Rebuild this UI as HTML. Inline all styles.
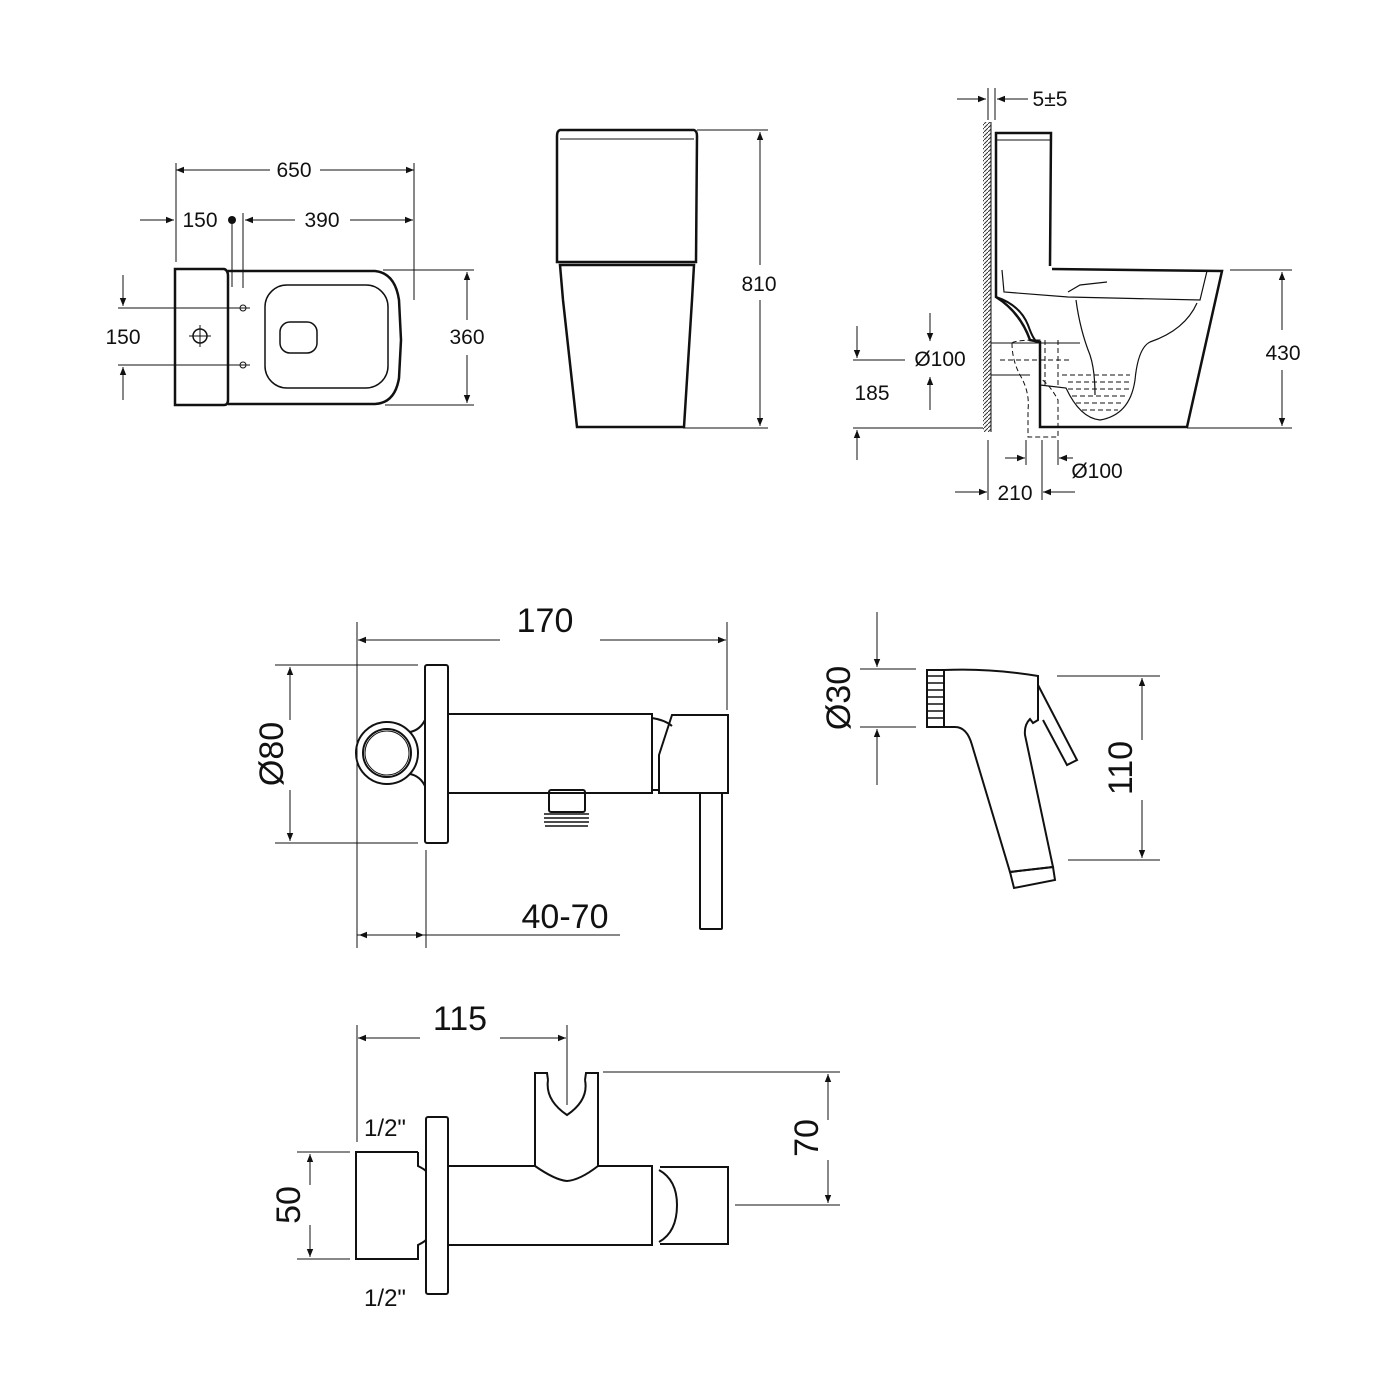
<!DOCTYPE html>
<html><head><style>
html,body{margin:0;padding:0;background:#fff;}
svg{display:block;font-family:"Liberation Sans",sans-serif;}
</style></head><body>
<svg width="1400" height="1400" viewBox="0 0 1400 1400" xmlns="http://www.w3.org/2000/svg">
<defs>
<marker id="a" viewBox="0 0 10 10" refX="10" refY="5" markerWidth="12" markerHeight="8" orient="auto-start-reverse" markerUnits="userSpaceOnUse"><path d="M0,1 L10,5 L0,9 z" fill="#111"/></marker>
<pattern id="h" width="4" height="4" patternUnits="userSpaceOnUse"><path d="M0,4 L4,0" stroke="#333" stroke-width="1"/></pattern>
</defs>
<g stroke="#111" fill="none" stroke-width="1">
<!-- PLAN VIEW -->
<line x1="176" y1="163" x2="176" y2="262"/><line x1="414" y1="163" x2="414" y2="300"/>
<line x1="243" y1="213" x2="243" y2="288"/><line x1="232" y1="220" x2="232" y2="287"/>
<line x1="270" y1="170" x2="176" y2="170" marker-end="url(#a)"/><line x1="320" y1="170" x2="414" y2="170" marker-end="url(#a)"/>
<line x1="140" y1="220" x2="174" y2="220" marker-end="url(#a)"/>
<line x1="295" y1="220" x2="245" y2="220" marker-end="url(#a)"/><line x1="350" y1="220" x2="413" y2="220" marker-end="url(#a)"/>
<line x1="383" y1="270" x2="474" y2="270"/><line x1="385" y1="405" x2="474" y2="405"/>
<line x1="467" y1="320" x2="467" y2="272" marker-end="url(#a)"/><line x1="467" y1="355" x2="467" y2="403" marker-end="url(#a)"/>
<line x1="118" y1="308" x2="250" y2="308"/><line x1="118" y1="365" x2="250" y2="365"/>
<line x1="123" y1="275" x2="123" y2="306" marker-end="url(#a)"/><line x1="123" y1="400" x2="123" y2="367" marker-end="url(#a)"/>
<path d="M175,269 L224,269 Q228,270 228,276 L228,400 Q228,405 224,405 L175,405 Z" stroke-width="2.5"/>
<path d="M228,271 L375,271 Q395,273 399,300 L401,340 L399,378 Q395,403 375,404 L228,404" stroke-width="2.5"/>
<rect x="265" y="285" width="123" height="103" rx="22" stroke-width="1.5"/>
<rect x="280" y="322" width="37" height="31" rx="10" stroke-width="1.5"/>
<circle cx="200" cy="336" r="7" stroke-width="1.5"/><line x1="189" y1="336" x2="211" y2="336"/><line x1="200" y1="325" x2="200" y2="347"/>
<circle cx="243" cy="308" r="3"/><circle cx="243" cy="365" r="3"/>
<!-- FRONT VIEW -->
<path d="M560,130 L694,130 Q697,131 697,136 L696,262 L557,262 L557,136 Q557,131 560,130 Z" stroke-width="2.5"/>
<line x1="560" y1="139" x2="694" y2="139" stroke-width="1"/>
<path d="M560,265 L694,265 L692,300 L684,427 L577,427 L563,300 Z" stroke-width="2.5"/>
<line x1="697" y1="130" x2="768" y2="130"/><line x1="683" y1="428" x2="768" y2="428"/>
<line x1="760" y1="265" x2="760" y2="132" marker-end="url(#a)"/><line x1="760" y1="300" x2="760" y2="426" marker-end="url(#a)"/>
<!-- SIDE VIEW -->
<rect x="983" y="122" width="8" height="310" fill="url(#h)" stroke="none"/>
<line x1="991" y1="122" x2="991" y2="432"/>
<line x1="988" y1="88" x2="988" y2="120"/><line x1="995" y1="88" x2="995" y2="120"/>
<line x1="957" y1="99" x2="986" y2="99" marker-end="url(#a)"/><line x1="1028" y1="99" x2="997" y2="99" marker-end="url(#a)"/>
<path d="M996,266 L996,133 L1051,133 L1050,266" stroke-width="2.5"/>
<line x1="997" y1="140" x2="1050" y2="140"/>
<path d="M996,266 L996,297 Q1020,312 1030,340 L1040,342 L1040,427 L1187,427 L1222,271 L1052,269" stroke-width="2.5"/>
<path d="M996,297 Q1020,305 1028,325 Q1035,345 1040,342" stroke-width="2"/>
<path d="M1002,270 L1004,292 L1068,297 L1200,300 L1207,271" stroke-width="1.2"/>
<path d="M1076,300 Q1080,330 1090,355 Q1095,370 1095,395" stroke-width="1.2"/>
<path d="M1197,303 Q1185,330 1150,342 Q1138,348 1135,380 Q1130,415 1100,420 Q1080,418 1066,388 L1040,385" stroke-width="1.2"/>
<path d="M1068,292 L1080,285 L1107,282" stroke-width="1.2"/>
<g stroke-dasharray="5,3" stroke-width="1">
<path d="M1012,343 Q1015,340 1040,340 L1040,390 M1012,343 Q1012,360 1020,375 Q1030,392 1028,410 L1028,437 L1058,437 L1058,400 Q1050,385 1040,378"/>
<line x1="1045" y1="340" x2="1045" y2="388"/><line x1="1058" y1="340" x2="1058" y2="388"/>
<line x1="1000" y1="360" x2="1070" y2="360"/>
<line x1="1062" y1="375" x2="1130" y2="375"/><line x1="1068" y1="382" x2="1130" y2="382"/><line x1="1068" y1="389" x2="1130" y2="389"/><line x1="1072" y1="396" x2="1128" y2="396"/><line x1="1076" y1="403" x2="1124" y2="403"/><line x1="1082" y1="410" x2="1118" y2="410"/>
</g>
<line x1="991" y1="343" x2="1080" y2="343"/><line x1="991" y1="375" x2="1030" y2="375"/>
<line x1="853" y1="360" x2="905" y2="360"/><line x1="853" y1="428" x2="983" y2="428"/>
<line x1="1187" y1="428" x2="1292" y2="428"/><line x1="1230" y1="270" x2="1292" y2="270"/>
<line x1="857" y1="326" x2="857" y2="358" marker-end="url(#a)"/><line x1="857" y1="460" x2="857" y2="430" marker-end="url(#a)"/>
<line x1="930" y1="313" x2="930" y2="341" marker-end="url(#a)"/><line x1="930" y1="410" x2="930" y2="377" marker-end="url(#a)"/>
<line x1="1282" y1="330" x2="1282" y2="272" marker-end="url(#a)"/><line x1="1282" y1="370" x2="1282" y2="426" marker-end="url(#a)"/>
<line x1="988" y1="440" x2="988" y2="500"/><line x1="1042" y1="440" x2="1042" y2="500"/>
<line x1="1026" y1="440" x2="1026" y2="465"/><line x1="1058" y1="440" x2="1058" y2="465"/>
<line x1="1005" y1="458" x2="1025" y2="458" marker-end="url(#a)"/><line x1="1073" y1="458" x2="1059" y2="458" marker-end="url(#a)"/>
<line x1="955" y1="492" x2="987" y2="492" marker-end="url(#a)"/><line x1="1075" y1="492" x2="1043" y2="492" marker-end="url(#a)"/>
<!-- MIXER 1 -->
<line x1="357" y1="622" x2="357" y2="948"/><line x1="727" y1="622" x2="727" y2="710"/><line x1="426" y1="850" x2="426" y2="948"/>
<line x1="500" y1="640" x2="358" y2="640" marker-end="url(#a)"/><line x1="600" y1="640" x2="726" y2="640" marker-end="url(#a)"/>
<line x1="275" y1="665" x2="418" y2="665"/><line x1="275" y1="843" x2="418" y2="843"/>
<line x1="290" y1="720" x2="290" y2="667" marker-end="url(#a)"/><line x1="290" y1="790" x2="290" y2="841" marker-end="url(#a)"/>
<line x1="357" y1="935" x2="620" y2="935"/>
<line x1="392" y1="935" x2="359" y2="935" marker-end="url(#a)"/><line x1="392" y1="935" x2="424" y2="935" marker-end="url(#a)"/>
<g stroke-width="2">
<rect x="425" y="665" width="23" height="178" rx="2"/>
<rect x="448" y="714" width="204" height="79"/>
<circle cx="387" cy="753" r="31"/><circle cx="387" cy="753" r="24"/><circle cx="387" cy="753" r="22" stroke-width="1"/>
<path d="M410,732 Q420,730 425,720 M410,774 Q420,776 425,786"/>
<path d="M672,715 L728,715 L728,793 L659,793 L659,755 Z"/>
<path d="M652,718 Q665,720 672,726 M652,790 L659,790"/>
<rect x="700" y="793" width="22" height="136" rx="1"/>
<rect x="549" y="790" width="36" height="22" rx="2"/>
</g>
<g stroke-width="1.5"><line x1="544" y1="814" x2="589" y2="814"/><line x1="544" y1="818" x2="589" y2="818"/><line x1="544" y1="822" x2="589" y2="822"/><line x1="545" y1="826" x2="588" y2="826"/></g>
<!-- SPRAYER -->
<line x1="860" y1="669" x2="916" y2="669"/><line x1="860" y1="727" x2="916" y2="727"/>
<line x1="877" y1="612" x2="877" y2="667" marker-end="url(#a)"/><line x1="877" y1="785" x2="877" y2="729" marker-end="url(#a)"/>
<line x1="1057" y1="676" x2="1160" y2="676"/><line x1="1068" y1="860" x2="1160" y2="860"/>
<line x1="1142" y1="740" x2="1142" y2="678" marker-end="url(#a)"/><line x1="1142" y1="800" x2="1142" y2="858" marker-end="url(#a)"/>
<g stroke-width="2">
<rect x="927" y="670" width="17" height="57"/>
<path d="M944,670 Q990,668 1038,676 L1038,720 L1033,723 L1030,719 Q1024,725 1025,735 L1053,867 L1010,872 L972,745 Q967,727 955,727 L944,727"/>
<path d="M1038,685 L1077,760 L1067,765 L1043,720"/>
<path d="M1010,872 L1053,867 L1055,880 L1014,888 Z"/>
</g>
<g stroke-width="1.5"><line x1="927" y1="676" x2="944" y2="676"/><line x1="927" y1="683" x2="944" y2="683"/><line x1="927" y1="690" x2="944" y2="690"/><line x1="927" y1="697" x2="944" y2="697"/><line x1="927" y1="704" x2="944" y2="704"/><line x1="927" y1="711" x2="944" y2="711"/><line x1="927" y1="718" x2="944" y2="718"/></g>
<!-- MIXER 2 -->
<line x1="357" y1="1025" x2="357" y2="1142"/><line x1="567" y1="1025" x2="567" y2="1105"/>
<line x1="420" y1="1038" x2="358" y2="1038" marker-end="url(#a)"/><line x1="500" y1="1038" x2="566" y2="1038" marker-end="url(#a)"/>
<line x1="603" y1="1072" x2="840" y2="1072"/><line x1="735" y1="1205" x2="840" y2="1205"/>
<line x1="828" y1="1120" x2="828" y2="1074" marker-end="url(#a)"/><line x1="828" y1="1160" x2="828" y2="1203" marker-end="url(#a)"/>
<line x1="297" y1="1152" x2="350" y2="1152"/><line x1="297" y1="1259" x2="350" y2="1259"/>
<line x1="310" y1="1185" x2="310" y2="1154" marker-end="url(#a)"/><line x1="310" y1="1225" x2="310" y2="1257" marker-end="url(#a)"/>
<g stroke-width="2">
<path d="M418,1152 L356,1152 L356,1259 L418,1259 L418,1245 Q424,1242 426,1240 M418,1152 L418,1166 Q424,1169 426,1171"/>
<rect x="426" y="1117" width="22" height="177" rx="2"/>
<path d="M448,1166 L535,1166 M598,1166 L652,1166 L652,1245 L448,1245"/>
<path d="M535,1166 L535,1073 L547,1073 L548,1080 M598,1166 L598,1073 L586,1073 L585,1080 M548,1080 Q545,1100 567,1115 Q589,1100 585,1080"/>
<path d="M535,1166 Q555,1180 567,1181 Q580,1180 598,1166"/>
<path d="M660,1167 L728,1167 L728,1244 L660,1244 M659,1170 Q677,1180 677,1205 Q677,1232 659,1242"/>
</g>
</g>
<g fill="#111" font-size="21">
<text x="294" y="177" text-anchor="middle">650</text>
<text x="200" y="227" text-anchor="middle">150</text>
<circle cx="232" cy="220" r="4"/>
<text x="322" y="227" text-anchor="middle">390</text>
<text x="467" y="344" text-anchor="middle">360</text>
<text x="123" y="344" text-anchor="middle">150</text>
<text x="759" y="291" text-anchor="middle">810</text>
<text x="1050" y="106" text-anchor="middle">5±5</text>
<text x="940" y="366" text-anchor="middle">Ø100</text>
<text x="872" y="400" text-anchor="middle">185</text>
<text x="1283" y="360" text-anchor="middle">430</text>
<text x="1097" y="478" text-anchor="middle">Ø100</text>
<text x="1015" y="500" text-anchor="middle">210</text>
<text x="545" y="632" text-anchor="middle" font-size="34">170</text>
<text x="565" y="928" text-anchor="middle" font-size="34">40-70</text>
<text transform="translate(283,754) rotate(-90)" text-anchor="middle" font-size="34">Ø80</text>
<text transform="translate(850,698) rotate(-90)" text-anchor="middle" font-size="34">Ø30</text>
<text transform="translate(1132,768) rotate(-90)" text-anchor="middle" font-size="34">110</text>
<text x="460" y="1030" text-anchor="middle" font-size="34">115</text>
<text transform="translate(818,1138) rotate(-90)" text-anchor="middle" font-size="34">70</text>
<text transform="translate(300,1205) rotate(-90)" text-anchor="middle" font-size="34">50</text>
<text x="385" y="1136" text-anchor="middle" font-size="24" transform="scale(1,1)">1/2"</text>
<text x="385" y="1306" text-anchor="middle" font-size="24">1/2"</text>
</g>
</svg>
</body></html>
